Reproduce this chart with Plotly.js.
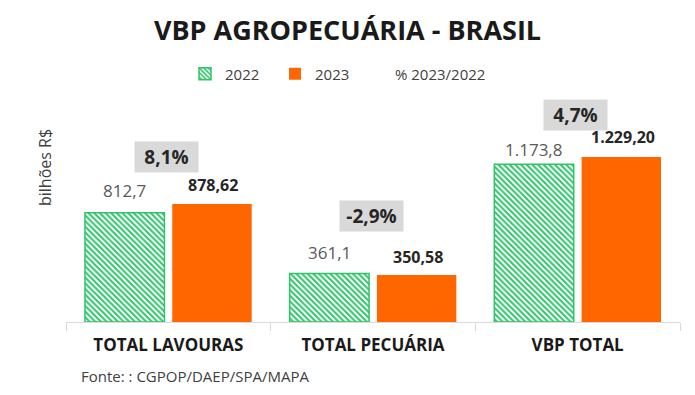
<!DOCTYPE html>
<html><head><meta charset="utf-8">
<script src="https://cdn.plot.ly/plotly-3.0.1.min.js"></script>
<style>body{margin:0;background:#fff}#c{width:695px;height:395px}</style>
</head><body><div id="c"></div>
<script>
const categories = ["TOTAL LAVOURAS", "TOTAL PECUÁRIA", "VBP TOTAL"];
const v2022 = [812.7, 361.1, 1173.8];
const v2023 = [878.62, 350.58, 1229.20];
const pct = ["8,1%", "-2,9%", "4,7%"];
const seriesNames = ["2022", "2023", "% 2023/2022"];
const titleText = "VBP AGROPECUÁRIA - BRASIL";
const yTitle = "bilhões R$";
const source = "Fonte: : CGPOP/DAEP/SPA/MAPA";

const green = "#2fc46a", orange = "#ff6600";
const fontFam = "Open Sans, sans-serif";
const pctShift = [47, 58, 42];
const shift22 = [22, 21, 15];
const shift23 = [19, 18, 20];

const traces = [
  {type:"bar", name:seriesNames[0], x:categories, y:v2022,
   marker:{color:"#ffffff", line:{color:green, width:1.5},
     pattern:{shape:"\\", fgcolor:green, bgcolor:"#ffffff", size:4, solidity:0.5}},
   hoverinfo:"none"},
  {type:"bar", name:seriesNames[1], x:categories, y:v2023,
   marker:{color:orange}, hoverinfo:"none"}
];

const annotations = [];
categories.forEach((c, i) => {
  annotations.push({x:c, y:v2022[i], xref:"x", yref:"y", xshift:-44, yshift:shift22[i],
    text:v2022[i].toLocaleString("pt-BR",{minimumFractionDigits:1, maximumFractionDigits:1}),
    showarrow:false, font:{family:fontFam, size:17, color:"#595959"}});
  annotations.push({x:c, y:v2023[i], xref:"x", yref:"y", xshift:45, yshift:shift23[i],
    text:"<b>"+v2023[i].toLocaleString("pt-BR",{minimumFractionDigits:2, maximumFractionDigits:2})+"</b>",
    showarrow:false, font:{family:fontFam, size:16, color:"#262626"}});
  annotations.push({x:c, y:Math.max(v2022[i], v2023[i]), xref:"x", yref:"y", xshift:-2, yshift:pctShift[i],
    text:"<b>"+pct[i]+"</b>", showarrow:false, bgcolor:"#d9d9d9", borderpad:3, width:57, height:24,
    font:{family:fontFam, size:19, color:"#262626"}});
});
annotations.push({text:source, xref:"paper", yref:"paper", x:0, y:0, xanchor:"left", yanchor:"middle",
  xshift:13, yshift:-54, showarrow:false, font:{family:fontFam, size:15, color:"#404040"}});
annotations.push({text:yTitle, xref:"paper", yref:"paper", x:0, y:(322-168)/222, xanchor:"center", yanchor:"middle",
  xshift:-21, textangle:-90, showarrow:false, font:{family:fontFam, size:16, color:"#404040"}});
annotations.push({text:seriesNames[2], xref:"paper", yref:"paper", x:(393-66)/614, y:(322-74)/222,
  xanchor:"left", yanchor:"middle", showarrow:false, font:{family:fontFam, size:15, color:"#404040"}});

const layout = {
  width:695, height:395,
  margin:{l:66, r:15, t:100, b:73},
  paper_bgcolor:"#fff", plot_bgcolor:"#fff",
  separators:",.",
  font:{family:fontFam, color:"#404040"},
  title:{text:"<b>"+titleText+"</b>", x:0.5, xanchor:"center", y:0.922, yanchor:"middle",
    font:{family:fontFam, size:27, color:"#1a1a1a"}},
  barmode:"group", bargap:0.147, bargroupgap:0.09,
  showlegend:true,
  legend:{orientation:"h", x:(199-66-14)/614, xanchor:"left", y:(322-74)/222, yanchor:"middle",
    font:{family:fontFam, size:15, color:"#404040"}, itemwidth:30, traceorder:"normal",
    entrywidth:45},
  xaxis:{type:"category", showline:true, linecolor:"#d9d9d9", linewidth:1,
    ticks:"outside", tickson:"boundaries", ticklen:8, tickcolor:"#d9d9d9",
    ticklabelstandoff:8,
    tickfont:{family:fontFam, size:17, color:"#1a1a1a"},
    tickvals:categories, ticktext:categories.map(c=>"<b>"+c+"</b>"), fixedrange:true},
  yaxis:{range:[0,1653], showgrid:false, zeroline:false, showticklabels:false, showline:false},
  annotations:annotations
};
Plotly.newPlot("c", traces, layout, {staticPlot:true});
</script></body></html>
